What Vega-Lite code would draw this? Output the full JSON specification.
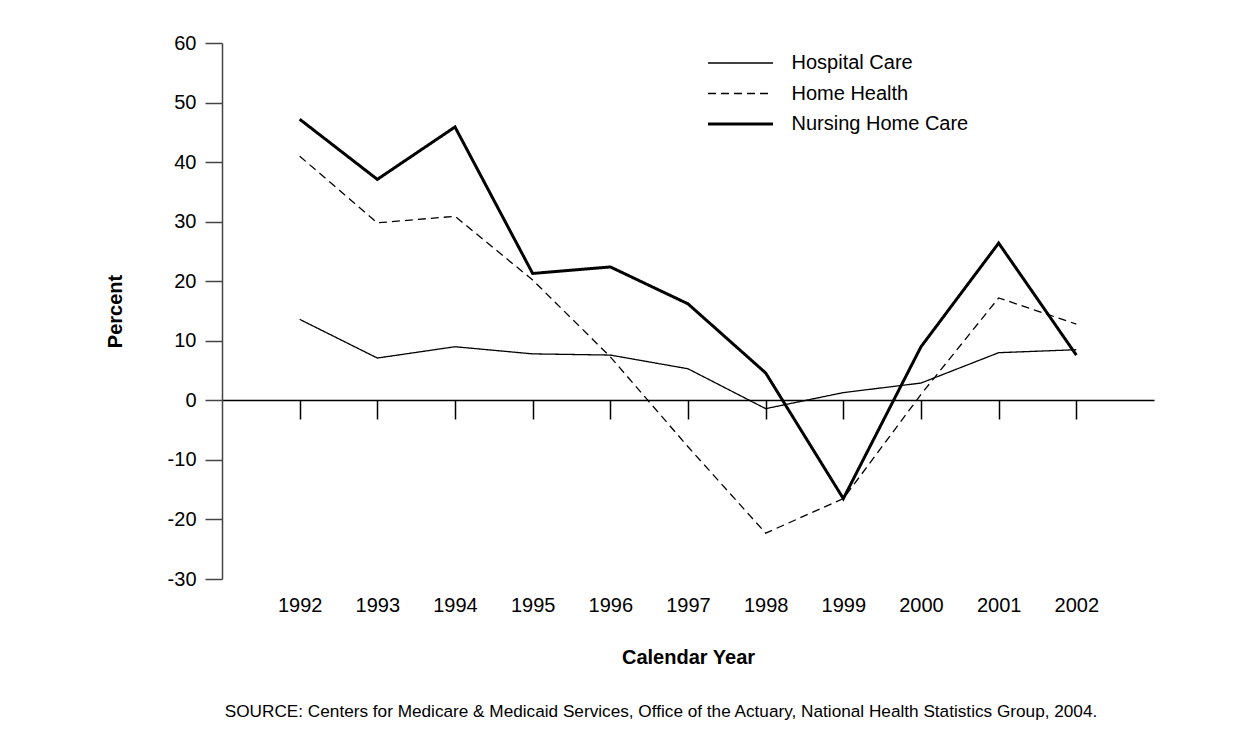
{
  "$schema": "https://vega.github.io/schema/vega-lite/v6.json",
  "width": 932,
  "height": 536,
  "autosize": "none",
  "padding": {"left": 222, "top": 43, "right": 97, "bottom": 171},
  "background": "white",
  "config": {
    "font": "Liberation Sans",
    "view": {"stroke": null},
    "axis": {"grid": false, "labelColor": "#000", "titleColor": "#000"}
  },
  "title": {
    "text": "SOURCE: Centers for Medicare & Medicaid Services, Office of the Actuary, National Health Statistics Group, 2004.",
    "orient": "bottom",
    "anchor": "middle",
    "frame": "group",
    "dx": -27,
    "offset": 36,
    "fontSize": 17.2,
    "fontWeight": "normal",
    "color": "#000",
    "font": "Liberation Sans"
  },
  "data": {
    "values": [
      {"year": 1992, "series": "Hospital Care", "pct": 13.6},
      {"year": 1993, "series": "Hospital Care", "pct": 7.1},
      {"year": 1994, "series": "Hospital Care", "pct": 9.0},
      {"year": 1995, "series": "Hospital Care", "pct": 7.8},
      {"year": 1996, "series": "Hospital Care", "pct": 7.6},
      {"year": 1997, "series": "Hospital Care", "pct": 5.3},
      {"year": 1998, "series": "Hospital Care", "pct": -1.4},
      {"year": 1999, "series": "Hospital Care", "pct": 1.3},
      {"year": 2000, "series": "Hospital Care", "pct": 2.9},
      {"year": 2001, "series": "Hospital Care", "pct": 8.0},
      {"year": 2002, "series": "Hospital Care", "pct": 8.5},
      {"year": 1992, "series": "Home Health", "pct": 41.0},
      {"year": 1993, "series": "Home Health", "pct": 29.8},
      {"year": 1994, "series": "Home Health", "pct": 30.9},
      {"year": 1995, "series": "Home Health", "pct": 20.2},
      {"year": 1996, "series": "Home Health", "pct": 7.3},
      {"year": 1997, "series": "Home Health", "pct": -7.8},
      {"year": 1998, "series": "Home Health", "pct": -22.3},
      {"year": 1999, "series": "Home Health", "pct": -16.5},
      {"year": 2000, "series": "Home Health", "pct": 1.0},
      {"year": 2001, "series": "Home Health", "pct": 17.2},
      {"year": 2002, "series": "Home Health", "pct": 12.8},
      {"year": 1992, "series": "Nursing Home Care", "pct": 47.2},
      {"year": 1993, "series": "Nursing Home Care", "pct": 37.1},
      {"year": 1994, "series": "Nursing Home Care", "pct": 45.9},
      {"year": 1995, "series": "Nursing Home Care", "pct": 21.3},
      {"year": 1996, "series": "Nursing Home Care", "pct": 22.4},
      {"year": 1997, "series": "Nursing Home Care", "pct": 16.2},
      {"year": 1998, "series": "Nursing Home Care", "pct": 4.6},
      {"year": 1999, "series": "Nursing Home Care", "pct": -16.5},
      {"year": 2000, "series": "Nursing Home Care", "pct": 9.0},
      {"year": 2001, "series": "Nursing Home Care", "pct": 26.4},
      {"year": 2002, "series": "Nursing Home Care", "pct": 7.6}
    ]
  },
  "layer": [
    {
      "mark": {"type": "point", "opacity": 0},
      "encoding": {
        "x": {
          "field": "year", "type": "quantitative",
          "scale": {"domain": [1991, 2003], "nice": false, "zero": false},
          "axis": {
            "orient": "bottom", "offset": -179,
            "values": [1992, 1993, 1994, 1995, 1996, 1997, 1998, 1999, 2000, 2001, 2002],
            "labels": false, "title": null,
            "domain": true, "domainColor": "#000", "domainWidth": 1.4,
            "ticks": true, "tickSize": 19, "tickColor": "#000", "tickWidth": 1.5
          }
        },
        "y": {"field": "pct", "type": "quantitative"}
      }
    },
    {
      "mark": {"type": "line", "color": "#000", "strokeJoin": "miter"},
      "encoding": {
        "x": {
          "field": "year", "type": "quantitative",
          "scale": {"domain": [1991, 2003], "nice": false, "zero": false},
          "axis": {
            "orient": "bottom",
            "values": [1992, 1993, 1994, 1995, 1996, 1997, 1998, 1999, 2000, 2001, 2002],
            "format": "d",
            "domain": false, "ticks": false,
            "labelFontSize": 20, "labelPadding": 16, "labelBaseline": "top",
            "title": "Calendar Year", "titleFontSize": 20, "titleFontWeight": "bold",
            "titlePadding": 32
          }
        },
        "y": {
          "field": "pct", "type": "quantitative",
          "scale": {"domain": [-30, 60], "nice": false, "zero": false},
          "axis": {
            "values": [-30, -20, -10, 0, 10, 20, 30, 40, 50, 60],
            "labelExpr": "'' + datum.value",
            "domainColor": "#444", "domainWidth": 1.5,
            "tickColor": "#444", "tickWidth": 1.5, "tickSize": 17,
            "labelFontSize": 20, "labelPadding": 9,
            "title": "Percent", "titleFontSize": 20, "titleFontWeight": "bold",
            "titlePadding": 42
          }
        },
        "strokeDash": {
          "field": "series", "type": "nominal",
          "scale": {"domain": ["Hospital Care", "Home Health", "Nursing Home Care"], "range": [[1, 0], [8, 5], [1, 0]]},
          "legend": {
            "title": null, "orient": "none", "legendX": 508.5, "legendY": 10,
            "symbolType": "M-4,0H4", "symbolSize": 264, "symbolStrokeColor": "#000",
            "labelFontSize": 20, "labelColor": "#000", "labelOffset": 41, "labelLimit": 400, "rowPadding": 10.5
          }
        },
        "strokeWidth": {
          "field": "series", "type": "nominal",
          "scale": {"type": "ordinal", "domain": ["Hospital Care", "Home Health", "Nursing Home Care"], "range": [1.3, 1.3, 3]},
          "legend": {
            "title": null, "orient": "none", "legendX": 508.5, "legendY": 10,
            "symbolType": "M-4,0H4", "symbolSize": 264, "symbolStrokeColor": "#000",
            "labelFontSize": 20, "labelColor": "#000", "labelOffset": 41, "labelLimit": 400, "rowPadding": 10.5
          }
        }
      }
    }
  ],
  "resolve": {"axis": {"x": "independent"}}
}
